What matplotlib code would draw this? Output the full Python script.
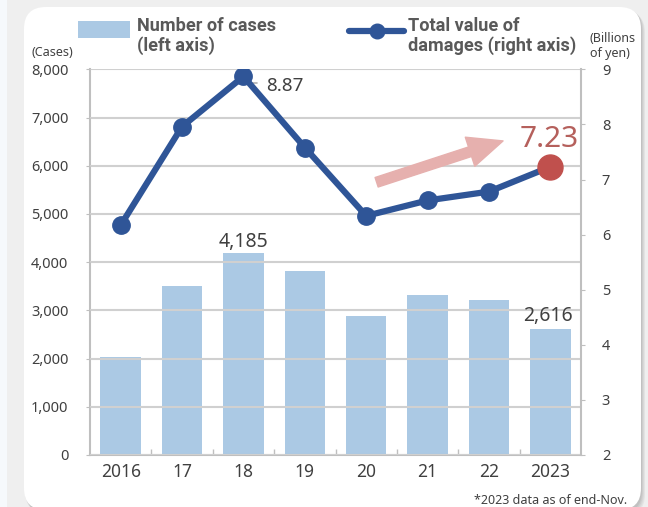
import numpy as np
import matplotlib.pyplot as plt
from matplotlib.patches import FancyBboxPatch, Rectangle, FancyArrowPatch
from matplotlib.lines import Line2D
from matplotlib.transforms import IdentityTransform

years = ['2016', '17', '18', '19', '20', '21', '22', '2023']
cases = [2030, 3500, 4185, 3820, 2890, 3320, 3220, 2616]
damages = [6.17, 7.96, 8.87, 7.58, 6.34, 6.62, 6.78, 7.23]
case_ticks = list(range(0, 8001, 1000))
yen_ticks = list(range(2, 10))

W, H = 648, 507
TXT = '#404040'
GRID = '#d0d0d0'
BAR = '#abc9e4'
LINE = '#2f5597'
RED = '#c0504d'

plt.rcParams['font.family'] = ['Noto Sans', 'DejaVu Sans']


def fx(px):
    return px / W


def fy(py):
    # pixel measured from top -> figure fraction
    return 1 - py / H


fig = plt.figure(figsize=(6.48, 5.07), dpi=100, facecolor='#efefef')

# background strip + card with a soft shadow
fig.patches.append(Rectangle((0, 0), fx(7), 1, transform=fig.transFigure,
                             facecolor='#f6f9fc', edgecolor='none', zorder=-3))
for i, a in enumerate([0.10, 0.10, 0.12, 0.15]):
    off = 4 - i
    fig.patches.append(FancyBboxPatch((24 + off, -5 - off), 617, 505,
                                      boxstyle='round,pad=0,rounding_size=22',
                                      transform=IdentityTransform(),
                                      facecolor='#808080', alpha=a,
                                      edgecolor='none', zorder=-2))
fig.patches.append(FancyBboxPatch((24, -3), 617, 503,
                                  boxstyle='round,pad=0,rounding_size=22',
                                  transform=IdentityTransform(),
                                  facecolor='white', edgecolor='none', zorder=-1))

ax = fig.add_axes([fx(90), 52 / H, (581 - 90) / W, (455 - 69.3) / H])
x = np.arange(len(years))

ax.bar(x, cases, width=0.66, color=BAR, zorder=1)
ax.set_xlim(-0.5, len(years) - 0.5)
ax.set_ylim(0, 8000)
ax.set_yticks(case_ticks, [f'{v:,}' for v in case_ticks])
ax.set_xticks(x, years)
ax.set_xticks(np.arange(0.5, len(years) - 1, 1), minor=True)
ax.yaxis.grid(True, color=GRID, lw=1.5)
ax.set_axisbelow(False)
for s in ['top', 'right']:
    ax.spines[s].set_visible(False)
for s in ['left', 'bottom']:
    ax.spines[s].set_color('#bfbfbf')
    ax.spines[s].set_linewidth(1.5)
ax.tick_params(axis='y', length=3, color='#bfbfbf', pad=12.5,
               labelsize=10.5, labelcolor=TXT)
ax.tick_params(axis='x', which='major', length=0, pad=6,
               labelsize=12.5, labelcolor=TXT)
ax.tick_params(axis='x', which='minor', direction='in', length=4,
               color='#bfbfbf', width=1)

ax.annotate(f'{cases[2]:,}', xy=(x[2], cases[2]), xytext=(0, 4.5),
            textcoords='offset points', ha='center', va='baseline',
            fontsize=14, color=TXT)
ax.annotate(f'{cases[-1]:,}', xy=(x[-1], cases[-1]), xytext=(-1.5, 5.5),
            textcoords='offset points', ha='center', va='baseline',
            fontsize=14, color=TXT)

ax2 = ax.twinx()
ax2.set_ylim(2, 9)
ax2.set_yticks(yen_ticks)
for s in ['top', 'left', 'bottom']:
    ax2.spines[s].set_visible(False)
ax2.spines['right'].set_color('#bfbfbf')
ax2.spines['right'].set_linewidth(1.5)
ax2.tick_params(axis='y', length=3, color='#bfbfbf', pad=12,
                labelsize=10.5, labelcolor=TXT)

# small leader for the peak label, drawn under the line
ax2.annotate('', xy=(x[2], damages[2]), xytext=(9.5, -4.8),
             textcoords='offset points',
             arrowprops=dict(arrowstyle='-', color='#b0b0b0', lw=1.2,
                             connectionstyle='angle,angleA=0,angleB=90',
                             shrinkA=0, shrinkB=0), zorder=2)
ax2.plot(x, damages, color=LINE, lw=4.5, marker='o', ms=12.5,
         markevery=list(range(len(years) - 1)), zorder=3,
         solid_capstyle='round')
ax2.plot(x[-1], damages[-1], 'o', ms=18, color=RED, zorder=4)

ax2.annotate(f'{damages[2]:.2f}', xy=(x[2], damages[2]), xytext=(16.6, -10.8),
             textcoords='offset points', ha='left', va='baseline',
             fontsize=13.5, color=TXT)
ax2.annotate(f'{damages[-1]:.2f}', xy=(x[-1], damages[-1]), xytext=(-1, 14.4),
             textcoords='offset points', ha='center', va='baseline',
             fontsize=21.5, color='#b5605c')

# trend arrow
ax2.add_patch(FancyArrowPatch((4.17, 6.95), (6.23, 7.70),
                              arrowstyle='simple,head_length=25,head_width=22,tail_width=7.2',
                              mutation_scale=1, shrinkA=0, shrinkB=0,
                              color='#e6b0ae', zorder=2))

# legend drawn by hand
fig.patches.append(Rectangle((fx(78), fy(38)), fx(130) - fx(78), fy(21) - fy(38),
                             transform=fig.transFigure, facecolor=BAR,
                             edgecolor='none'))
fig.lines.append(Line2D([fx(349), fx(404)], [fy(31), fy(31)],
                        transform=fig.transFigure, color=LINE, lw=4.5,
                        solid_capstyle='round'))
fig.lines.append(Line2D([fx(376.5)], [fy(31)], transform=fig.transFigure,
                        marker='o', ms=10.5, color=LINE))
leg_kw = dict(fontsize=13.1, fontweight='bold', color='#595959', va='baseline',
              family=['Roboto', 'DejaVu Sans'])
fig.text(fx(137), fy(30.7), 'Number of cases', **leg_kw)
fig.text(fx(137), fy(50.7), '(left axis)', **leg_kw)
fig.text(fx(408), fy(30.7), 'Total value of', **leg_kw)
fig.text(fx(408), fy(50.7), 'damages (right axis)', **leg_kw)

fig.text(fx(31), fy(53), '(Cases)', fontsize=9, color=TXT, va='center')
fig.text(fx(590), fy(39), '(Billions', fontsize=9, color=TXT, va='center')
fig.text(fx(590), fy(53), 'of yen)', fontsize=9, color=TXT, va='center')
fig.text(fx(627), fy(501), '*2023 data as of end-Nov.', fontsize=9,
         color=TXT, ha='right', va='center')

fig.savefig('out.png', dpi=100, facecolor=fig.get_facecolor())
